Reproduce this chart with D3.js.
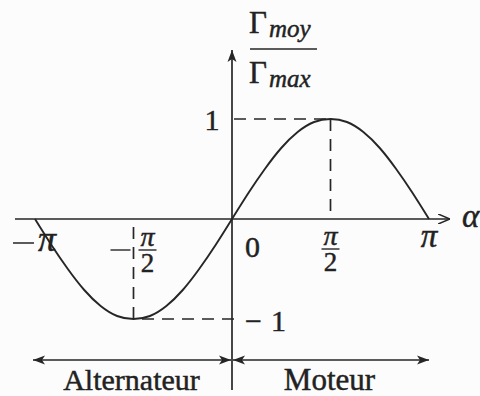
<!DOCTYPE html>
<html>
<head>
<meta charset="utf-8">
<script src="https://cdn.jsdelivr.net/npm/d3@7"></script>
<style>
  html, body { margin: 0; padding: 0; background: #fcfcfc; }
  svg { display: block; }
  text { font-family: "Liberation Serif", "DejaVu Serif", serif; fill: #222; stroke: #222; stroke-width: 0.45px; }
</style>
</head>
<body>
<svg id="chart" width="480" height="396"></svg>
<script>
// Load angle alpha, in multiples of pi, and the mean torque ratio Γmoy/Γmax
const alphaPi = [-1, -0.9167, -0.8333, -0.75, -0.6667, -0.5833, -0.5, -0.4167, -0.3333, -0.25, -0.1667, -0.0833,
                 0, 0.0833, 0.1667, 0.25, 0.3333, 0.4167, 0.5, 0.5833, 0.6667, 0.75, 0.8333, 0.9167, 1];
const torqueRatio = [0, -0.26, -0.5, -0.71, -0.87, -0.97, -1, -0.97, -0.87, -0.71, -0.5, -0.26,
                     0, 0.26, 0.5, 0.71, 0.87, 0.97, 1, 0.97, 0.87, 0.71, 0.5, 0.26, 0];

// Marked points: the extrema of the curve
const extremaPi = [0.5, -0.5];
const extremaVal = [1, -1];

// Operating regions below the axis
const regionNames = ["Alternateur", "Moteur"];
const regionFrom = [-1, 0];
const regionTo = [0, 1];

const svg = d3.select("#chart");
const ink = "#262626";

const x = d3.scaleLinear().domain([-Math.PI, Math.PI]).range([35, 429]);
const y = d3.scaleLinear().domain([-1, 1]).range([319, 119]);

const x0 = x(0), y0 = y(0);

// Arrowhead markers
const defs = svg.append("defs");
defs.append("marker")
  .attr("id", "open").attr("viewBox", "0 0 12 10").attr("refX", 12).attr("refY", 5)
  .attr("markerWidth", 12).attr("markerHeight", 10).attr("markerUnits", "userSpaceOnUse")
  .attr("orient", "auto")
  .append("path").attr("d", "M0,0 L12,5 L0,10").attr("fill", "none")
  .attr("stroke", ink).attr("stroke-width", 1.6);
defs.append("marker")
  .attr("id", "solid").attr("viewBox", "0 0 12 10").attr("refX", 12).attr("refY", 5)
  .attr("markerWidth", 12).attr("markerHeight", 10).attr("markerUnits", "userSpaceOnUse")
  .attr("orient", "auto-start-reverse")
  .append("path").attr("d", "M0,0.5 L12,5 L0,9.5 L3,5 Z").attr("fill", ink);

// Axes
svg.append("line")
  .attr("x1", 15).attr("x2", 450).attr("y1", y0).attr("y2", y0)
  .attr("stroke", ink).attr("stroke-width", 1.7).attr("marker-end", "url(#open)");
svg.append("line")
  .attr("x1", x0).attr("x2", x0).attr("y1", 390).attr("y2", 50)
  .attr("stroke", ink).attr("stroke-width", 1.7).attr("marker-end", "url(#solid)");

// Dashed guides to the extrema
const guides = svg.append("g")
  .attr("stroke", ink).attr("stroke-width", 1.7).attr("stroke-dasharray", "12,8").attr("fill", "none");
extremaPi.forEach((a, i) => {
  const px = x(a * Math.PI), py = y(extremaVal[i]);
  guides.append("line").attr("x1", x0 + 2).attr("x2", px).attr("y1", py).attr("y2", py);
  guides.append("line").attr("x1", px).attr("x2", px).attr("y1", py).attr("y2", y0);
});

// Curve
const pts = alphaPi.map((a, i) => [a * Math.PI, torqueRatio[i]]);
svg.append("path")
  .datum(pts)
  .attr("d", d3.line().x(d => x(d[0])).y(d => y(d[1])).curve(d3.curveNatural))
  .attr("fill", "none").attr("stroke", ink).attr("stroke-width", 1.9);

// Y tick labels
svg.append("text").attr("x", x(0) - 20).attr("y", y(1) + 11)
  .attr("text-anchor", "middle").attr("font-size", 30).text("1");
const m1 = svg.append("text").attr("x", x(0) + 13).attr("y", y(-1) + 12).attr("font-size", 30);
m1.append("tspan").text("−");
m1.append("tspan").attr("dx", 9).text("1");

// X tick labels
svg.append("text").attr("x", x(0) + 13).attr("y", 257).attr("font-size", 30).text("0");

function fracPi(cx, top) {
  const g = svg.append("g");
  g.append("text").attr("x", cx).attr("y", top + 12).attr("text-anchor", "middle")
    .attr("font-size", 28).attr("font-style", "italic").text("π");
  g.append("line").attr("x1", cx - 9).attr("x2", cx + 9).attr("y1", top + 16).attr("y2", top + 16)
    .attr("stroke", ink).attr("stroke-width", 1.4);
  g.append("text").attr("x", cx).attr("y", top + 38).attr("text-anchor", "middle")
    .attr("font-size", 27).text("2");
}
fracPi(x(Math.PI / 2), 233);
fracPi(x(-Math.PI / 2) + 14, 234);
svg.append("line").attr("x1", x(-Math.PI / 2) - 23).attr("x2", x(-Math.PI / 2) - 3)
  .attr("y1", 250).attr("y2", 250).attr("stroke", ink).attr("stroke-width", 1.4);

// −π and π
svg.append("line").attr("x1", 13).attr("x2", 34).attr("y1", 243).attr("y2", 243)
  .attr("stroke", ink).attr("stroke-width", 1.5);
svg.append("text").attr("x", 47).attr("y", 251).attr("text-anchor", "middle")
  .attr("font-size", 36).attr("font-style", "italic").text("π");
svg.append("text").attr("x", x(Math.PI)).attr("y", 247).attr("text-anchor", "middle")
  .attr("font-size", 33).attr("font-style", "italic").text("π");

// Axis names
svg.append("text").attr("x", 462).attr("y", 227).attr("font-size", 33)
  .attr("font-style", "italic").text("α");

const num = svg.append("text").attr("x", 249).attr("y", 33).attr("font-size", 31);
num.append("tspan").text("Γ");
num.append("tspan").attr("font-size", 25).attr("font-style", "italic").attr("dy", 4).attr("dx", 2).text("moy");
svg.append("line").attr("x1", 250).attr("x2", 317).attr("y1", 49).attr("y2", 49)
  .attr("stroke", ink).attr("stroke-width", 1.7);
const den = svg.append("text").attr("x", 249).attr("y", 83).attr("font-size", 31);
den.append("tspan").text("Γ");
den.append("tspan").attr("font-size", 25).attr("font-style", "italic").attr("dy", 4).attr("dx", 2).text("max");

// Operating regions
const regY = 360;
regionNames.forEach((name, i) => {
  const a = x(regionFrom[i] * Math.PI) - (i === 0 ? 2 : 0);
  const b = x(regionTo[i] * Math.PI);
  svg.append("line")
    .attr("x1", i === 0 ? a : x0 + 1).attr("x2", i === 0 ? x0 - 1 : b)
    .attr("y1", regY).attr("y2", regY)
    .attr("stroke", ink).attr("stroke-width", 1.6)
    .attr("marker-start", "url(#solid)").attr("marker-end", "url(#solid)");
  svg.append("text").attr("x", (i === 0 ? (a + x0) / 2 : (x0 + b) / 2) - 1)
    .attr("y", 390).attr("text-anchor", "middle").attr("font-size", i === 0 ? 30 : 31).text(name);
});
</script>
</body>
</html>
